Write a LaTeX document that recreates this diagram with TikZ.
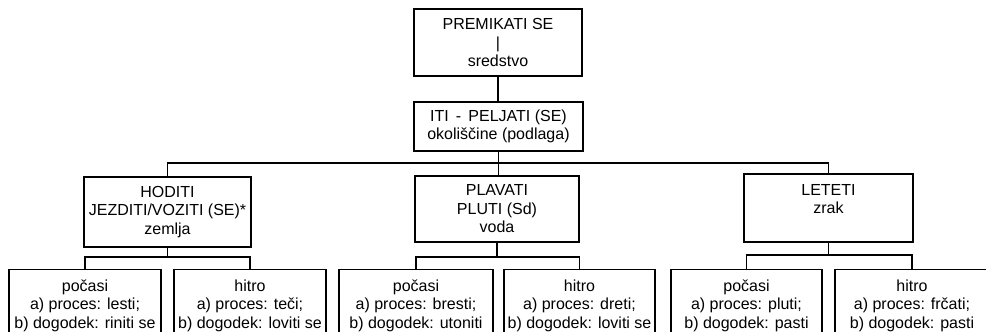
\documentclass[tikz,border=0pt]{standalone}
\usepackage{fontspec}
\setmainfont{Liberation Sans}
\begin{document}
\begin{tikzpicture}[x=1pt,y=-1pt,
  every node/.style={font=\fontsize{16}{18.5}\selectfont},
  box/.style={draw,line width=1.2pt,rectangle,align=center,inner sep=0pt},
  leaf/.style={box,anchor=north,minimum height=72pt},
  conn/.style={line width=1.2pt}]
\useasboundingbox (0,0) rectangle (986,332);
% main boxes
\node[box,minimum width=168pt,minimum height=67pt] (A) at (498,42.5) {PREMIKATI SE\\|\\sredstvo};
\node[box,minimum width=169pt,minimum height=49pt] (B) at (498.5,126.5) {ITI \,-\, PELJATI (SE)\\okoliščine (podlaga)};
\node[box,minimum width=167pt,minimum height=70pt] (C) at (167.5,212) {HODITI\\JEZDITI/VOZITI (SE)*\\zemlja};
\node[box,minimum width=164pt,minimum height=66pt] (D) at (497,209) {PLAVATI\\PLUTI (Sd)\\voda};
\node[box,minimum width=169pt,minimum height=68pt] (E) at (828.5,208) {LETETI\\zrak\\\mbox{}};
% leaves
\node[leaf,minimum width=152pt] (F1) at (85,269) {počasi\\a) proces: lesti;\\b) dogodek: riniti se};
\node[leaf,minimum width=152pt] (F2) at (250,269) {hitro\\a) proces: teči;\\b) dogodek: loviti se};
\node[leaf,minimum width=154pt] (G1) at (416,269) {počasi\\a) proces: bresti;\\b) dogodek: utoniti};
\node[leaf,minimum width=151pt] (G2) at (579.5,269) {hitro\\a) proces: dreti;\\b) dogodek: loviti se};
\node[leaf,minimum width=151pt] (H1) at (746.5,269) {počasi\\a) proces: pluti;\\b) dogodek: pasti};
\node[leaf,minimum width=154pt] (H2) at (912,269) {hitro\\a) proces: frčati;\\b) dogodek: pasti};
% bus coordinates
\coordinate (bus) at (0,163);
\coordinate (cb) at (0,257);
\coordinate (db) at (0,257);
\coordinate (eb) at (0,255);
% connectors
\draw[conn] (A.south) -- (A.south |- B.north);
\draw[conn] (B.south) -- (B.south |- D.north);
\draw[conn] (C.north) -- (C.north |- bus) -- (E.north |- bus) -- (E.north);
\draw[conn] (C.south) -- (C.south |- cb);
\draw[conn] (F1.north) -- (F1.north |- cb) -- (F2.north |- cb) -- (F2.north);
\draw[conn] (D.south) -- (D.south |- db);
\draw[conn] (G1.north) -- (G1.north |- db) -- (G2.north |- db) -- (G2.north);
\draw[conn] (E.south) -- (E.south |- eb);
\draw[conn] (H1.north) -- (H1.north |- eb) -- (H2.north |- eb) -- (H2.north);
\end{tikzpicture}
\end{document}
